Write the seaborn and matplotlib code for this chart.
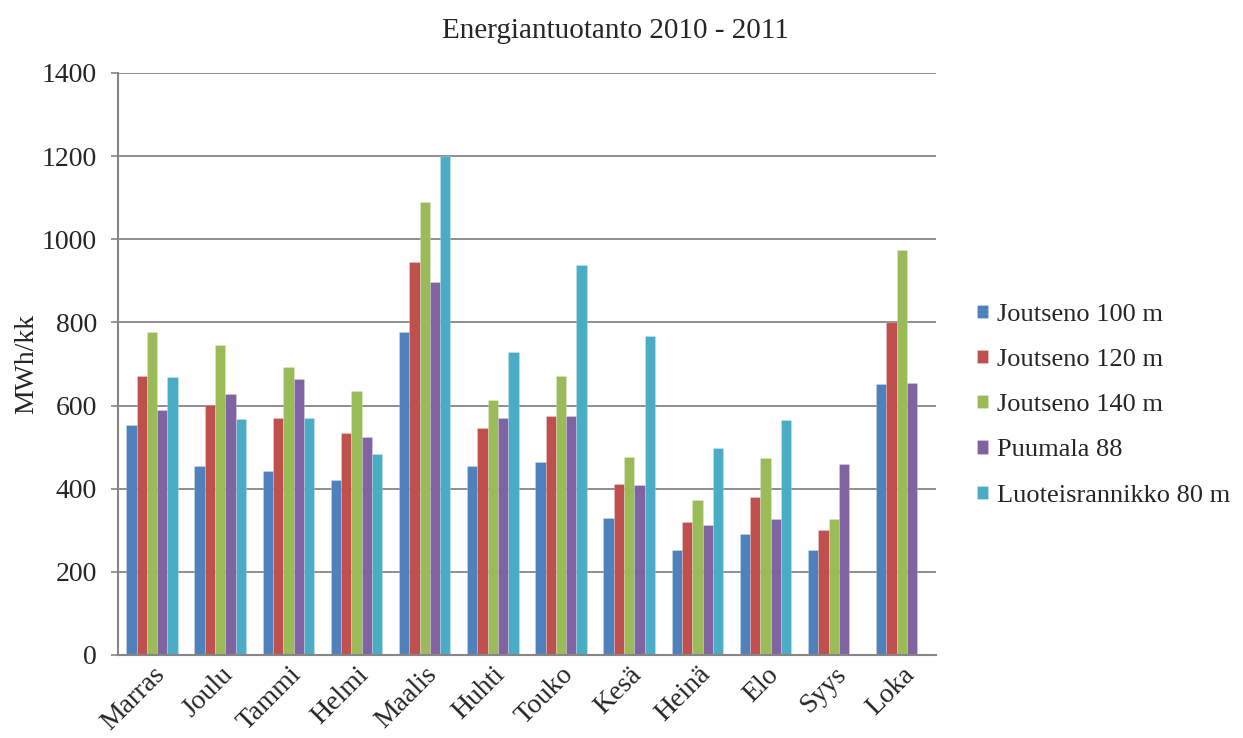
import numpy as np
import pandas as pd
import matplotlib
matplotlib.use("Agg")
import matplotlib.pyplot as plt
import seaborn as sns

# Monthly energy production (MWh per month), Nov 2010 - Oct 2011
months = ["Marras", "Joulu", "Tammi", "Helmi", "Maalis", "Huhti",
          "Touko", "Kesä", "Heinä", "Elo", "Syys", "Loka"]
series_names = ["Joutseno 100 m", "Joutseno 120 m", "Joutseno 140 m",
                "Puumala 88", "Luoteisrannikko 80 m"]

joutseno_100 = [553, 455, 443, 421, 777, 454, 465, 330, 253, 290, 253, 651]
joutseno_120 = [671, 601, 571, 534, 945, 546, 575, 412, 320, 380, 300, 800]
joutseno_140 = [778, 746, 692, 634, 1090, 613, 671, 477, 374, 474, 328, 973]
puumala_88 = [589, 628, 665, 524, 897, 570, 574, 409, 312, 326, 460, 655]
luoteisrannikko_80 = [668, 567, 571, 483, 1200, 729, 937, 768, 498, 566,
                      np.nan, np.nan]

yticks = [0, 200, 400, 600, 800, 1000, 1200, 1400]

colors = ["#4F81BD", "#C0504D", "#9BBB59", "#8064A2", "#4BACC6"]

values = [joutseno_100, joutseno_120, joutseno_140, puumala_88, luoteisrannikko_80]
df = pd.DataFrame({
    "Kuukausi": np.tile(months, len(series_names)),
    "Sarja": np.repeat(series_names, len(months)),
    "MWh": np.concatenate([np.asarray(v, dtype=float) for v in values]),
})

sns.set_style("white")
plt.rcParams["font.family"] = ["Liberation Serif", "DejaVu Serif"]

fig = plt.figure(figsize=(12.43, 7.38), dpi=100)
ax = fig.add_axes([0.0949, 0.1125, 0.6581, 0.7886])

sns.barplot(data=df, x="Kuukausi", y="MWh", hue="Sarja",
            order=months, hue_order=series_names, palette=colors,
            saturation=1, errorbar=None, width=0.755, ax=ax,
            edgecolor=(1, 1, 1, 0.35), linewidth=0.4, legend=True)

grid_col = "#868686"
ax.set_xlim(-0.5, len(months) - 0.5)
ax.set_ylim(0, 1400)
ax.set_yticks(yticks)
ax.set_yticklabels([str(t) for t in yticks])
ax.yaxis.grid(True, color=grid_col, linewidth=1.3)
ax.xaxis.grid(False)
ax.set_axisbelow(True)

for side in ("top", "right"):
    ax.spines[side].set_visible(False)
for side in ("left", "bottom"):
    ax.spines[side].set_color(grid_col)
    ax.spines[side].set_linewidth(1.5)

ax.tick_params(axis="y", which="major", direction="out", length=5,
               width=1.2, color=grid_col, pad=10, labelsize=20,
               left=True)
ax.tick_params(axis="x", length=0, pad=5, labelsize=20)
for lbl in ax.get_xticklabels():
    lbl.set_rotation(45)
    lbl.set_ha("right")
    lbl.set_va("top")
    lbl.set_rotation_mode("anchor")

ax.set_xlabel("")
ax.set_ylabel("MWh/kk", fontsize=20, labelpad=2)
fig.text(0.495, 0.958, "Energiantuotanto 2010 - 2011", ha="center",
         va="center", fontsize=21)

handles, labels = ax.get_legend_handles_labels()
ax.legend(handles, labels, loc="center left",
          bbox_to_anchor=(0.786, 0.451), bbox_transform=fig.transFigure,
          frameon=False, fontsize=19, handlelength=0.4, handleheight=0.4,
          handletextpad=0.35, labelspacing=0.88, borderpad=0,
          borderaxespad=0)

fig.savefig("out.png", dpi=100)
